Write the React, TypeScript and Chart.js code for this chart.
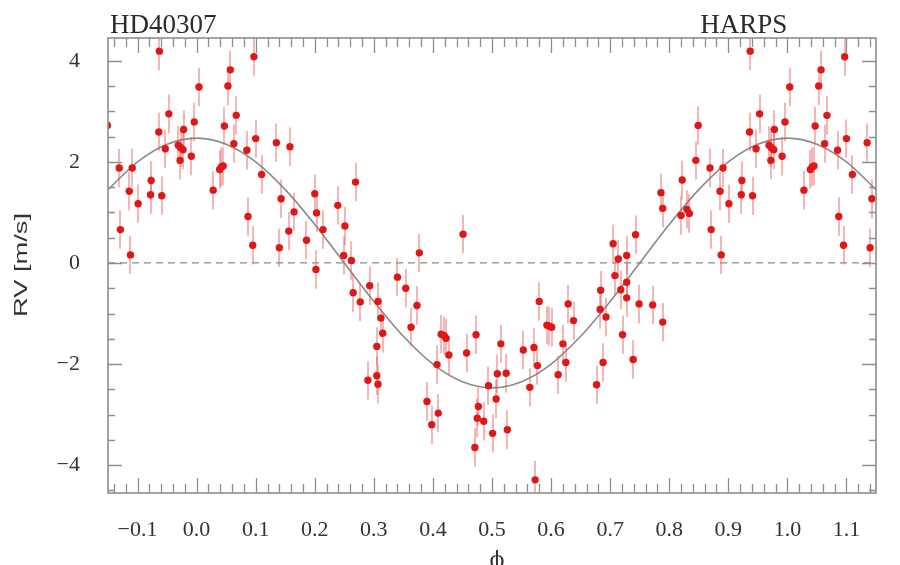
import { useEffect, useRef } from "react";
import { Chart, registerables } from "chart.js";

Chart.register(...registerables);

// HARPS radial velocities of HD40307 folded on the orbital phase (0 ≤ φ < 1)
const PHASE = [
  0.004, 0.028, 0.039, 0.042, 0.045, 0.047, 0.053, 0.057, 0.063, 0.067,
  0.085, 0.087, 0.095, 0.097, 0.100, 0.110, 0.135, 0.140, 0.143, 0.156,
  0.158, 0.165, 0.186, 0.200, 0.203, 0.202, 0.214, 0.239, 0.249, 0.251,
  0.262, 0.265, 0.269, 0.277, 0.290, 0.293, 0.305, 0.305, 0.307, 0.307,
  0.312, 0.315, 0.340, 0.354, 0.363, 0.373, 0.377, 0.390, 0.398, 0.407,
  0.409, 0.414, 0.419, 0.422, 0.427, 0.451, 0.457, 0.471, 0.473, 0.475,
  0.477, 0.486, 0.494, 0.501, 0.507, 0.509, 0.515, 0.524, 0.526, 0.553,
  0.564, 0.571, 0.573, 0.577, 0.580, 0.593, 0.597, 0.601, 0.612, 0.620,
  0.625, 0.629, 0.638, 0.677, 0.683, 0.684, 0.688, 0.693, 0.705, 0.708,
  0.714, 0.718, 0.721, 0.728, 0.728, 0.728, 0.739, 0.743, 0.749, 0.772,
  0.786, 0.789, 0.789, 0.820, 0.822, 0.830, 0.834, 0.845, 0.849, 0.869,
  0.871, 0.886, 0.888, 0.891, 0.901, 0.922, 0.923, 0.936, 0.937, 0.941,
  0.947, 0.953, 0.969, 0.972, 0.973, 0.977, 0.978, 0.991, 0.996,
];

const RV = [
  3.48, 1.44, 1.85, 1.90, 1.92, 2.71, 3.50, 3.82, 2.36, 2.92,
  2.23, 0.92, 0.35, 4.08, 2.46, 1.75, 2.38, 0.30, 1.27, 0.63,
  2.30, 1.01, 0.45, 1.37, 0.99, -0.13, 0.66, 1.14, 0.15, 0.73,
  0.05, -0.59, 1.60, -0.77, -2.32, -0.45, -2.23, -1.65, -2.40, -0.76,
  -1.09, -1.39, -0.28, -0.50, -1.27, -0.84, 0.20, -2.74, -3.20, -2.01,
  -2.97, -1.41, -1.44, -1.49, -1.82, 0.57, -1.78, -3.65, -1.42, -3.07,
  -2.84, -3.13, -2.43, -3.37, -2.69, -2.19, -1.60, -2.18, -3.30, -1.72,
  -2.46, -1.67, -4.29, -2.03, -0.76, -1.23, -1.25, -1.27, -2.21, -1.60,
  -1.97, -0.81, -1.14, -2.41, -0.92, -0.54, -1.97, -1.07, 0.38, -0.25,
  0.08, -0.53, -1.42, 0.15, -0.38, -0.69, -1.91, 0.56, -0.81, -0.83,
  1.39, -1.17, 1.08, 0.94, 1.64, 1.06, 0.98, 2.03, 2.72, 1.88,
  0.66, 1.42, 0.16, 1.88, 1.17, 1.35, 1.63, 2.59, 4.19, 1.33,
  2.26, 2.95, 2.33, 2.03, 2.28, 2.24, 2.64, 2.11, 2.79,
];

// typical 1-sigma uncertainty of a single measurement (m/s)
const RV_ERR = 0.38;

// Keplerian (circular) model sampled along the plotted phase range
const MODEL_PHASE = [
  -0.15, -0.1, -0.05, 0.0, 0.05, 0.1, 0.15, 0.2, 0.25, 0.3, 0.35, 0.4, 0.45, 0.5,
  0.55, 0.6, 0.65, 0.7, 0.75, 0.8, 0.85, 0.9, 0.95, 1.0, 1.05, 1.1, 1.15,
];
const MODEL_RV = [
  1.45, 2.0, 2.35, 2.47, 2.35, 2.0, 1.45, 0.76, 0.0, -0.76, -1.45, -2.0, -2.35, -2.47,
  -2.35, -2.0, -1.45, -0.76, 0.0, 0.76, 1.45, 2.0, 2.35, 2.47, 2.35, 2.0, 1.45,
];

const X_TICKS = [-0.1, 0.0, 0.1, 0.2, 0.3, 0.4, 0.5, 0.6, 0.7, 0.8, 0.9, 1.0, 1.1];
const Y_TICKS = [-4, -2, 0, 2, 4];

const X_MIN = -0.15;
const X_MAX = 1.15;
const Y_MIN = -4.55;
const Y_MAX = 4.45;

const STAR = "HD40307";
const INSTRUMENT = "HARPS";
const X_TITLE = "\u03D5";
const Y_TITLE = "RV [m/s]";

const SERIF = '"Liberation Serif", "DejaVu Serif", serif';
const SANS = '"Liberation Sans", Arial, sans-serif';
const AXIS_GREY = "#8e8e8e";
const TEXT = "#2b2b2b";

const minus = (s: string) => s.replace("-", "\u2212");

// repeat every measurement one cycle earlier and later so the fold wraps
function foldedPoints() {
  const pts: { x: number; y: number }[] = [];
  for (const shift of [-1, 0, 1]) {
    PHASE.forEach((p, i) => {
      const x = p + shift;
      if (x >= X_MIN - 0.01 && x <= X_MAX + 0.01) pts.push({ x, y: RV[i] });
    });
  }
  return pts;
}

const POINTS_INDEX = 0;

const rvPlugin = {
  id: "rvFrame",
  beforeDatasetDraw(chart: any, args: any) {
    if (args.index !== POINTS_INDEX) return;
    const { ctx, chartArea: a, scales } = chart;
    const xs = scales.x;
    const ys = scales.y;
    ctx.save();
    ctx.beginPath();
    ctx.rect(a.left, a.top, a.right - a.left, a.bottom - a.top);
    ctx.clip();
    ctx.strokeStyle = "rgba(236, 80, 80, 0.42)";
    ctx.lineWidth = 2;
    for (const pt of chart.data.datasets[POINTS_INDEX].data) {
      const px = Math.round(xs.getPixelForValue(pt.x));
      ctx.beginPath();
      ctx.moveTo(px, ys.getPixelForValue(pt.y - RV_ERR));
      ctx.lineTo(px, ys.getPixelForValue(pt.y + RV_ERR));
      ctx.stroke();
    }
    ctx.restore();
  },
  afterDraw(chart: any) {
    const { ctx, chartArea: a, scales } = chart;
    const xs = scales.x;
    const ys = scales.y;
    ctx.save();

    // inward tick marks on all four sides
    ctx.strokeStyle = AXIS_GREY;
    ctx.lineWidth = 1.3;
    ctx.beginPath();
    for (let i = -7; i <= 57; i++) {
      const px = Math.round(xs.getPixelForValue(i * 0.02)) + 0.5;
      const len = i % 5 === 0 ? 15 : 9;
      ctx.moveTo(px, a.bottom);
      ctx.lineTo(px, a.bottom - len);
      ctx.moveTo(px, a.top);
      ctx.lineTo(px, a.top + len);
    }
    for (let i = -9; i <= 8; i++) {
      const py = Math.round(ys.getPixelForValue(i * 0.5)) + 0.5;
      const len = i % 4 === 0 ? 14 : 7;
      ctx.moveTo(a.left, py);
      ctx.lineTo(a.left + len, py);
      ctx.moveTo(a.right, py);
      ctx.lineTo(a.right - len, py);
    }
    ctx.stroke();

    // plot frame
    ctx.lineWidth = 1.6;
    ctx.strokeRect(a.left, a.top, a.right - a.left, a.bottom - a.top);

    // labels above the frame
    ctx.fillStyle = TEXT;
    ctx.font = `27px ${SERIF}`;
    ctx.textBaseline = "alphabetic";
    ctx.textAlign = "left";
    ctx.fillText(STAR, a.left + 2, 33);
    ctx.textAlign = "right";
    ctx.fillText(INSTRUMENT, xs.getPixelForValue(1.0), 33);

    // x-axis title
    ctx.textAlign = "center";
    ctx.fillStyle = "#333";
    ctx.font = `22px "DejaVu Serif", serif`;
    ctx.fillText(X_TITLE, (a.left + a.right) / 2 + 5, 567);

    // y-axis title, rotated
    ctx.font = `19px ${SANS}`;
    const w = ctx.measureText(Y_TITLE).width;
    ctx.translate(26.5, 265);
    ctx.rotate(-Math.PI / 2);
    ctx.scale(104 / w, 1);
    ctx.fillText(Y_TITLE, 0, 0);
    ctx.restore();
  },
};

export default function App() {
  const canvasRef = useRef<HTMLCanvasElement | null>(null);

  useEffect(() => {
    const canvas = canvasRef.current;
    if (!canvas) return;
    const chart = new Chart(canvas, {
      type: "scatter",
      data: {
        datasets: [
          {
            label: "RV",
            data: foldedPoints(),
            backgroundColor: "rgb(222, 24, 24)",
            borderWidth: 0,
            pointRadius: 3.7,
            pointHoverRadius: 3.7,
            order: 0,
          },
          {
            label: "model",
            type: "line",
            data: MODEL_PHASE.map((p, i) => ({ x: p, y: MODEL_RV[i] })),
            borderColor: "#8a8a8a",
            borderWidth: 1.6,
            pointRadius: 0,
            showLine: true,
            cubicInterpolationMode: "monotone",
            fill: false,
            order: 1,
          },
          {
            label: "zero",
            type: "line",
            data: [
              { x: X_MIN, y: 0 },
              { x: X_MAX, y: 0 },
            ],
            borderColor: "#8c8c8c",
            borderWidth: 1.3,
            borderDash: [7, 5],
            pointRadius: 0,
            showLine: true,
            fill: false,
            order: 2,
          },
        ],
      },
      options: {
        animation: false,
        responsive: true,
        maintainAspectRatio: false,
        layout: { padding: { left: 0, top: 38, right: 24, bottom: 0 } },
        plugins: {
          legend: { display: false },
          tooltip: { enabled: false },
          title: { display: false },
        },
        scales: {
          x: {
            type: "linear",
            min: X_MIN,
            max: X_MAX,
            grid: { display: false },
            border: { display: false },
            afterBuildTicks: (scale: any) => {
              scale.ticks = X_TICKS.map((v) => ({ value: v }));
            },
            afterFit: (scale: any) => {
              scale.height = 72;
            },
            ticks: {
              autoSkip: false,
              maxRotation: 0,
              padding: 16,
              color: "#333",
              font: { family: SERIF, size: 22 },
              callback: (v: any) => minus(Number(v).toFixed(1)),
            },
          },
          y: {
            type: "linear",
            min: Y_MIN,
            max: Y_MAX,
            grid: { display: false },
            border: { display: false },
            afterBuildTicks: (scale: any) => {
              scale.ticks = Y_TICKS.map((v) => ({ value: v }));
            },
            afterFit: (scale: any) => {
              scale.width = 108;
            },
            ticks: {
              autoSkip: false,
              padding: 20,
              color: "#333",
              font: { family: SERIF, size: 22 },
              callback: (v: any) => minus(String(v)),
            },
          },
        },
      },
      plugins: [rvPlugin],
    } as any);
    return () => chart.destroy();
  }, []);

  return (
    <div
      style={{
        position: "absolute",
        left: 0,
        top: 0,
        width: 900,
        height: 565,
        background: "#fff",
      }}
    >
      <canvas ref={canvasRef} />
    </div>
  );
}
